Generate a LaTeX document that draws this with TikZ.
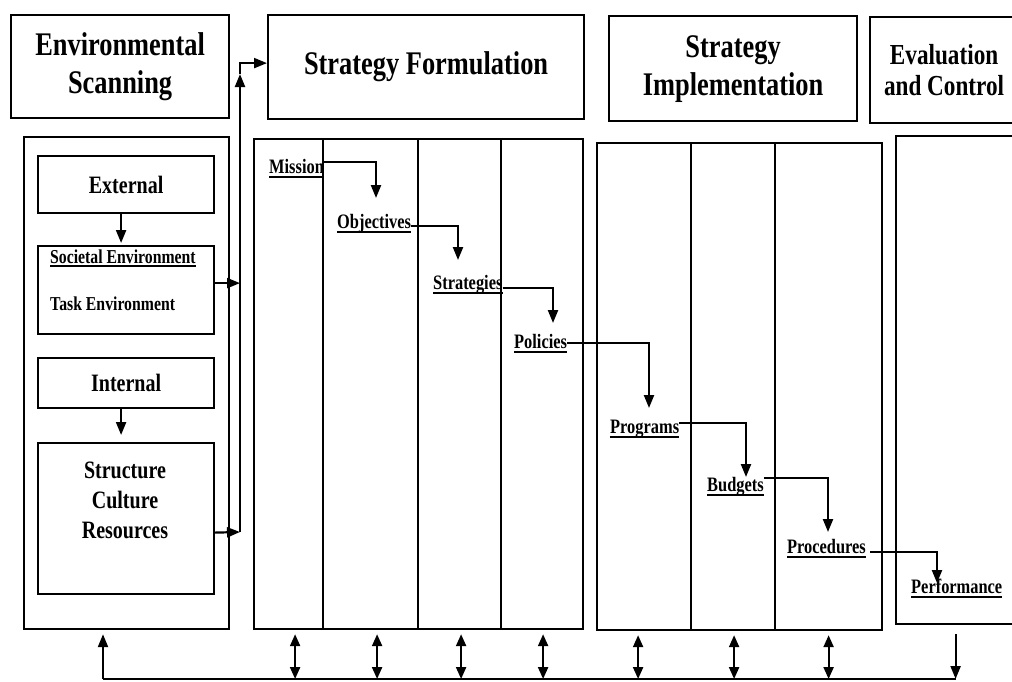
\documentclass[tikz,border=0pt]{standalone}
\usepackage{fontspec}
\setmainfont{Liberation Serif}
\newfontfamily\hdf[FakeStretch=0.8]{Liberation Serif}
\usetikzlibrary{arrows.meta,calc}
\begin{document}
\begin{tikzpicture}[x=1pt,y=-1pt,
  box/.style={draw, line width=2.2pt, inner sep=0pt, anchor=north west, align=center},
  hd/.style={font=\hdf\bfseries\fontsize{33}{38}\selectfont},
  hdsmall/.style={font=\hdf\bfseries\fontsize{29}{31}\selectfont},
  sub/.style={font=\hdf\bfseries\fontsize{25}{30}\selectfont},
  small/.style={font=\hdf\bfseries\fontsize{19.7}{24}\selectfont, inner sep=0pt, anchor=base west},
  lab/.style={font=\hdf\bfseries\fontsize{20.5}{24}\selectfont, inner sep=0pt, anchor=base west},
  conn/.style={line width=2pt},
  arr/.style={line width=2.2pt, -{Triangle[length=13pt,width=10pt]}},
  darr/.style={line width=2.2pt, {Triangle[length=12pt,width=10pt]}-{Triangle[length=12pt,width=10pt]}}
]
\useasboundingbox (0,0) rectangle (1012,681);

% header boxes
\node[box, hd, minimum width=218pt, minimum height=103pt] (es) at (10,14) {Environmental\\Scanning};
\node[box, hd, minimum width=316pt, minimum height=104pt] (sf) at (267,14) {Strategy Formulation};
\node[box, hd, minimum width=248pt, minimum height=105pt] (si) at (608,15) {Strategy\\Implementation};
\node[box, hdsmall, minimum width=148pt, minimum height=106pt] (ec) at (869,16) {Evaluation\\and Control};

% environmental scanning body
\node[box, minimum width=205pt, minimum height=492pt] (env) at (23,136) {};
\node[box, sub, minimum width=176pt, minimum height=57pt] (ext) at (37,155) {External};
\node[box, minimum width=176pt, minimum height=88pt] (soc) at (37,245) {};
\node[small] (soc1) at (50,263) {Societal Environment};
\node[small] (soc2) at (50,310) {Task Environment};
\node[box, sub, minimum width=176pt, minimum height=50pt] (int) at (37,357) {Internal};
\node[box, minimum width=176pt, minimum height=151pt] (stb) at (37,442) {};
\node[sub, inner sep=0pt, anchor=base] (st1) at (125,478) {Structure};
\node[sub, inner sep=0pt, anchor=base] (st2) at (125,508) {Culture};
\node[sub, inner sep=0pt, anchor=base] (st3) at (125,538) {Resources};
\draw[line width=1.6pt] ([yshift=-3pt]soc1.base west) -- ([yshift=-3pt]soc1.base east);

\draw[arr] ([xshift=-5pt]ext.south) -- ([xshift=-5pt,yshift=2pt]soc.north);
\draw[arr] ([xshift=-5pt]int.south) -- ([xshift=-5pt,yshift=7pt]stb.north);

% trunk to strategy formulation
\coordinate (trunk) at (240,532);
\coordinate (uptip) at (240,74);
\draw[arr] ([yshift=-14pt]stb.east) -- (trunk);
\draw[arr] ([yshift=7pt]soc.east) -- ([yshift=7pt]soc.east -| trunk);
\draw[arr] (trunk) -- (uptip);
\draw[arr] (uptip) |- ([yshift=4pt]sf.west);

% strategy formulation columns
\node[box, minimum width=69pt, minimum height=490pt] (c1) at (253,138) {};
\node[box, minimum width=95pt, minimum height=490pt] (c2) at (322,138) {};
\node[box, minimum width=83pt, minimum height=490pt] (c3) at (417,138) {};
\node[box, minimum width=82pt, minimum height=490pt] (c4) at (500,138) {};
% strategy implementation columns
\node[box, minimum width=94pt, minimum height=487pt] (c5) at (596,142) {};
\node[box, minimum width=84pt, minimum height=487pt] (c6) at (690,142) {};
\node[box, minimum width=107pt, minimum height=487pt] (c7) at (774,142) {};
% evaluation body
\node[box, minimum width=130pt, minimum height=488pt] (ec2) at (895,135) {};

% stage labels
\node[lab] (mis) at (269,173) {Mission};
\node[lab] (obj) at (337,228) {Objectives};
\node[lab] (str) at (433,289) {Strategies};
\node[lab] (pol) at (514,348) {Policies};
\node[lab] (prg) at (610,433) {Programs};
\node[lab] (bud) at (707,491) {Budgets};
\node[lab] (prc) at (787,553) {Procedures};
\node[lab] (prf) at (911,593) {Performance};
\foreach \n in {mis,obj,str,pol,prg,bud,prc,prf}
  \draw[line width=1.8pt] ([yshift=-4pt]\n.base west) -- ([yshift=-4pt]\n.base east);

\draw[arr] ([yshift=11pt]mis.base east) -| ([xshift=39pt,yshift=30pt]obj.base west);
\draw[arr] ([yshift=2pt]obj.base east) -| ([xshift=25pt,yshift=29pt]str.base west);
\draw[arr] ([yshift=1pt]str.base east) -| ([xshift=39pt,yshift=25pt]pol.base west);
\draw[arr] ([yshift=5pt]pol.base east) -| ([xshift=39pt,yshift=25pt]prg.base west);
\draw[arr] ([yshift=10pt]prg.base east) -| ([xshift=39pt,yshift=14pt]bud.base west);
\draw[arr] ([yshift=13pt]bud.base east) -| ([xshift=41pt,yshift=21pt]prc.base west);
\draw[arr] ([xshift=4pt,yshift=1pt]prc.base east) -| ([xshift=26pt,yshift=10pt]prf.base west);

% feedback line
\coordinate (fb) at (103,679);
\coordinate (fe) at ([xshift=-5.5pt]ec2.south |- fb);
\draw[conn] (fb) -- (fe);
\draw[arr] (fb) -- ([yshift=-4pt]fb |- env.south);
\foreach \c/\s in {c1/6.5,c2/6.5,c3/1.5,c4/1,c5/-6,c6/1,c7/0}
  \draw[darr] ([xshift=\s pt,yshift=-4pt]\c.south) -- ([xshift=\s pt]\c.south |- fb);
\draw[arr] ([xshift=-5.5pt,yshift=-9pt]ec2.south) -- (fe);
\end{tikzpicture}
\end{document}
